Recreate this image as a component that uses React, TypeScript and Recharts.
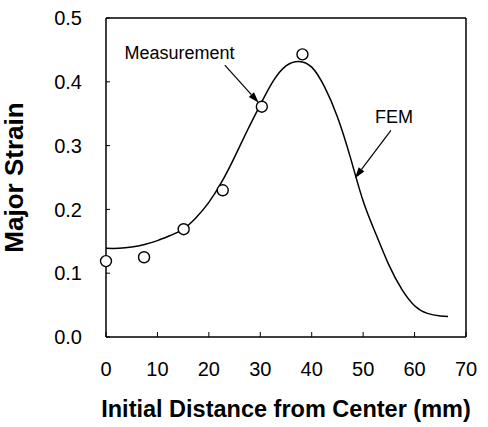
import { ComposedChart, Line, Scatter, XAxis, YAxis, ReferenceLine, ReferenceDot } from 'recharts';

// FEM prediction
const femDistance = [0, 2.5, 5, 7.5, 10, 12.5, 15, 17.5, 20, 22.5, 25, 27.5, 30, 32.5, 35, 37.5, 40, 42.5, 45, 47.5, 50, 52.5, 55, 57.5, 60, 62.5, 65, 66.5];
const femStrain = [0.139, 0.139, 0.141, 0.145, 0.151, 0.159, 0.169, 0.187, 0.211, 0.243, 0.282, 0.324, 0.364, 0.401, 0.425, 0.432, 0.423, 0.392, 0.345, 0.282, 0.213, 0.161, 0.113, 0.075, 0.049, 0.037, 0.033, 0.032];

// measured points (circles)
const measuredDistance = [0, 7.4, 15.1, 22.7, 30.3, 38.2];
const measuredStrain = [0.119, 0.125, 0.169, 0.23, 0.361, 0.443];

const xTicks = [0, 10, 20, 30, 40, 50, 60, 70];
const yTicks = [0, 0.1, 0.2, 0.3, 0.4, 0.5];

const femData = femDistance.map((d, i) => ({ distance: d, fem: femStrain[i] }));
const measuredData = measuredDistance.map((d, i) => ({ distance: d, strain: measuredStrain[i] }));

const font = '"Liberation Sans", Arial, Helvetica, sans-serif';

const Arrow = (props: any) => {
  const { x1, y1, x2, y2 } = props;
  const ang = Math.atan2(y2 - y1, x2 - x1);
  const len = 11;
  const half = 3.5;
  const bx = x2 - len * Math.cos(ang);
  const by = y2 - len * Math.sin(ang);
  const px = -Math.sin(ang) * half;
  const py = Math.cos(ang) * half;
  return (
    <g>
      <line x1={x1} y1={y1} x2={bx} y2={by} stroke="#000" strokeWidth={1.2} />
      <polygon points={`${x2},${y2} ${bx + px},${by + py} ${bx - px},${by - py}`} fill="#000" />
    </g>
  );
};

const noteText = (text: string) => (props: any) => (
  <text x={props.cx} y={props.cy} textAnchor="middle" dominantBaseline="central" fontSize={18} fontFamily={font} fill="#000">
    {text}
  </text>
);

const Circle = (props: any) => (
  <circle cx={props.cx} cy={props.cy} r={5.5} fill="#fff" stroke="#000" strokeWidth={1.4} />
);

export default function App() {
  return (
    <div style={{ position: 'absolute', left: 0, top: 0, width: 488, height: 427, background: '#fff' }}>
      <ComposedChart width={488} height={427} data={femData} margin={{ top: 18, right: 22, bottom: 0, left: 0 }}>
        <XAxis
          dataKey="distance"
          type="number"
          domain={[0, 70]}
          ticks={xTicks}
          interval={0}
          height={90}
          tickSize={-5}
          tickMargin={30}
          axisLine={{ stroke: '#000', strokeWidth: 1.5 }}
          tickLine={{ stroke: '#000', strokeWidth: 1 }}
          tick={{ fill: '#000', fontSize: 20, fontFamily: font }}
          label={{
            value: 'Initial Distance from Center (mm)',
            position: 'insideBottom',
            offset: 10,
            style: { fill: '#000', fontSize: 23.5, fontWeight: 'bold', fontFamily: font },
          }}
        />
        <YAxis
          type="number"
          domain={[0, 0.5]}
          ticks={yTicks}
          interval={0}
          width={106}
          tickSize={-4}
          tickMargin={28}
          tickFormatter={(v: number) => v.toFixed(1)}
          axisLine={{ stroke: '#000', strokeWidth: 1.5 }}
          tickLine={{ stroke: '#000', strokeWidth: 1 }}
          tick={{ fill: '#000', fontSize: 20, fontFamily: font }}
          label={{
            value: 'Major Strain',
            angle: -90,
            position: 'insideLeft',
            offset: 14,
            style: { textAnchor: 'middle', fill: '#000', fontSize: 26, fontWeight: 'bold', fontFamily: font },
          }}
        />
        <ReferenceLine y={0.5} stroke="#000" strokeWidth={1.5} />
        <ReferenceLine x={70} stroke="#000" strokeWidth={1.5} />
        <Line
          dataKey="fem"
          type="natural"
          stroke="#000"
          strokeWidth={1.5}
          dot={false}
          activeDot={false}
          isAnimationActive={false}
        />
        <Scatter data={measuredData} dataKey="strain" shape={Circle} isAnimationActive={false} />
        <ReferenceLine segment={[{ x: 23.1, y: 0.426 }, { x: 29.7, y: 0.367 }]} shape={Arrow} />
        <ReferenceLine segment={[{ x: 55.4, y: 0.324 }, { x: 48.4, y: 0.249 }]} shape={Arrow} />
        <ReferenceDot x={14.3} y={0.445} shape={noteText('Measurement')} />
        <ReferenceDot x={56} y={0.345} shape={noteText('FEM')} />
      </ComposedChart>
    </div>
  );
}
